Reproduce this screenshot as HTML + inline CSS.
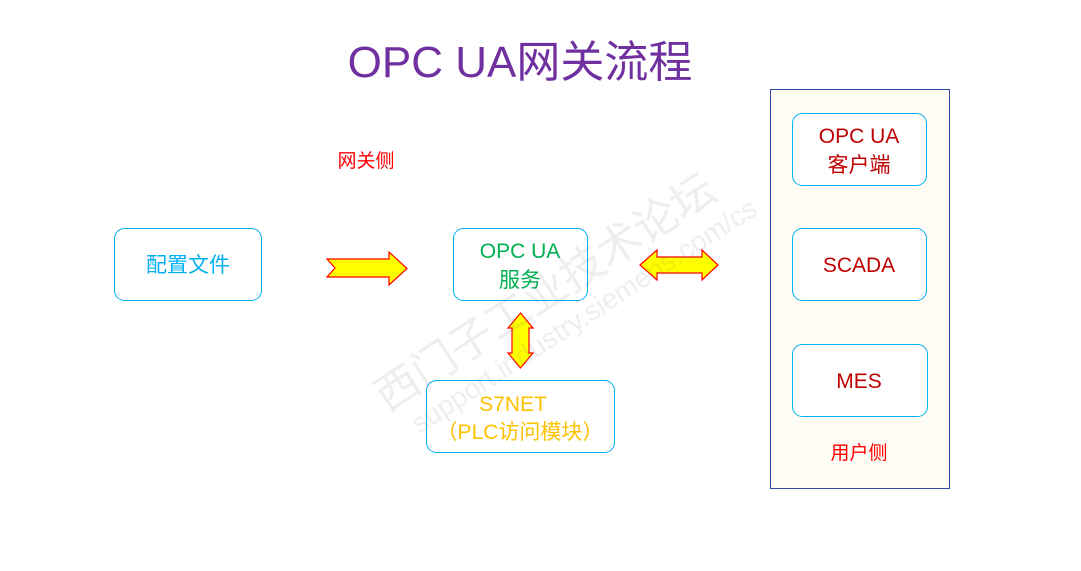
<!DOCTYPE html>
<html><head><meta charset="utf-8"><style>
body{margin:0;background:#fff;}
svg{display:block}
text{font-family:"Liberation Sans","Noto Sans CJK SC",sans-serif;}
</style></head><body>
<svg width="1081" height="571" viewBox="0 0 1081 571" xmlns="http://www.w3.org/2000/svg">
<rect width="1081" height="571" fill="#fff"/>
<text x="520" y="77" font-size="44" fill="#7030a0" text-anchor="middle">OPC UA网关流程</text>
<text x="366" y="167" font-size="19" fill="#ff0000" text-anchor="middle">网关侧</text>
<rect x="770.5" y="89.5" width="179" height="399" fill="#fffcf5" stroke="#2f4faa" stroke-width="1"/>
<g fill="#fff" stroke="#00b0f0" stroke-width="1">
<rect x="114.5" y="228.5" width="147" height="72" rx="10"/>
<rect x="453.5" y="228.5" width="134" height="72" rx="10"/>
<rect x="426.5" y="380.5" width="188" height="72" rx="10"/>
<rect x="792.5" y="113.5" width="134" height="72" rx="10"/>
<rect x="792.5" y="228.5" width="134" height="72" rx="10"/>
<rect x="792.5" y="344.5" width="135" height="72" rx="10"/>
</g>
<g font-size="21" text-anchor="middle">
<text x="188" y="272" fill="#00b0f0">配置文件</text>
<text x="520" y="258" fill="#00b050">OPC UA</text>
<text x="520" y="287" fill="#00b050">服务</text>
<text x="513" y="411" fill="#ffc000">S7NET</text>
<text x="520" y="439" fill="#ffc000">（PLC访问模块）</text>
<text x="859" y="143" fill="#c00000">OPC UA</text>
<text x="859" y="172" fill="#c00000">客户端</text>
<text x="859" y="272" fill="#c00000">SCADA</text>
<text x="859" y="388" fill="#c00000">MES</text>
</g>
<text x="859" y="459" font-size="19" fill="#ff0000" text-anchor="middle">用户侧</text>
<g fill="#ffff00" stroke="#ff0000" stroke-width="1.2">
<polygon points="327,259 389,259 389,252 407,268.5 389,285 389,277 327,277 335,268"/>
<polygon points="640,265 657,250 657,257 702,257 702,250 718,265 702,280 702,273 657,273 657,280"/>
<polygon points="520.5,313 533,328 529,328 529,353 533,353 520.5,368 508,353 512,353 512,328 508,328"/>
</g>
<g opacity="0.1" transform="rotate(-33 540 290)">
<text x="345" y="310" font-size="44" fill="#666">西门子工业技术论坛</text>
<text x="360" y="345" font-size="28" fill="#666">support.industry.siemens.com/cs</text>
</g>
</svg>
</body></html>
